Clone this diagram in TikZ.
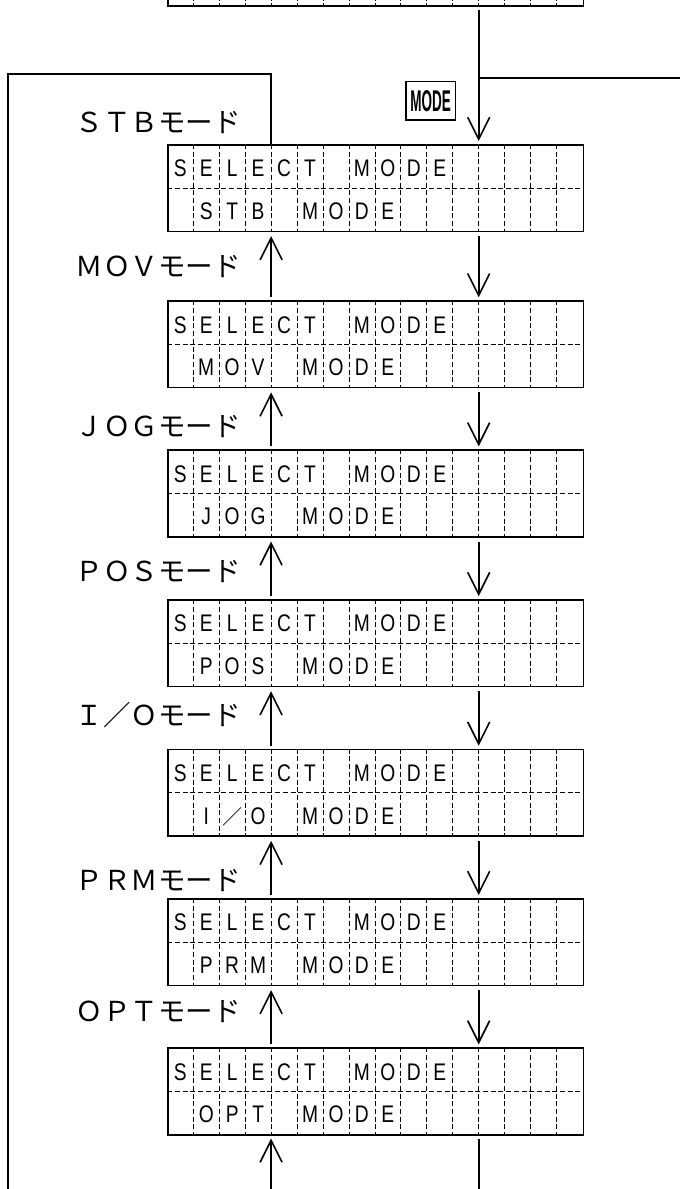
\documentclass[tikz,border=0pt]{standalone}
\usepackage{fontspec}
\newfontfamily\jpfont{Noto Sans CJK JP}
\newfontfamily\lcdfont[FakeStretch=0.8]{Liberation Sans}
\newfontfamily\keyfont[FakeStretch=0.45]{Liberation Sans Bold}
\newcommand\lcdslash{{\jpfont\fontsize{20}{20}\selectfont ／}}
\usetikzlibrary{arrows.meta}

\begin{document}
\begin{tikzpicture}[x=1pt,y=-1pt,
    lcd/.style={draw,line width=1.6pt,minimum width=415.2pt,minimum height=86.5pt,inner sep=0pt,anchor=north west},
    lcdgrid/.style={line width=0.8pt,dash pattern=on 5pt off 2.7pt},
    ch/.style={font=\lcdfont\fontsize{24}{24}\selectfont,anchor=base,inner sep=0pt},
    mlabel/.style={font=\jpfont\fontsize{27.5}{27.5}\selectfont,anchor=base east,inner sep=0pt},
    wire/.style={line width=1.6pt},
    arr/.style={wire,-{Straight Barb[length=22pt,width=22pt]}}]
      \useasboundingbox (0,0) rectangle (680,1189);
      \clip (0,0) rectangle (680,1189);
      % columns of the arrows
      \coordinate (c4) at (271.1,0);
      \coordinate (c12) at (478.7,0);
      % displays
      \node [lcd] (menu) at (167.3,-81.5) {};
      \foreach \n/\t in {stb/144,mov/300.3,jog/449.4,pos/599.1,io/748.7,prm/898,opt/1047.4}
        \node [lcd] (\n) at (167.3,\t) {};
      \foreach \n in {menu,stb,mov,jog,pos,io,prm,opt} {
        \foreach \k in {1,...,15}
          \draw [lcdgrid] ([xshift=\k*25.95pt]\n.north west) -- ([xshift=\k*25.95pt]\n.south west);
        \draw [lcdgrid] (\n.west) -- (\n.east);
      }
      \foreach \n/\p/\q/\r in {stb/S/T/B,mov/M/O/V,jog/J/O/G,pos/P/O/S,io/I/\lcdslash/O,prm/P/R/M,opt/O/P/T} {
        \foreach \c [count=\i from 0] in {S,E,L,E,C,T,,M,O,D,E}
          \node [ch] (\n-a\i) at ([xshift=(\i+0.5)*25.95pt,yshift=-32.7pt]\n.north west) {\c};
        \foreach \c [count=\i from 1] in {\p,\q,\r,,M,O,D,E}
          \node [ch] (\n-b\i) at ([xshift=(\i+0.5)*25.95pt,yshift=-75.3pt]\n.north west) {\c};
      }
      % mode names
      \node [mlabel] (lstb) at (241,132) {ＳＴＢモード};
      \node [mlabel] (lmov) at (241,276.7) {ＭＯＶモード};
      \node [mlabel] (ljog) at (241,436.7) {ＪＯＧモード};
      \node [mlabel] (lpos) at (241,581.7) {ＰＯＳモード};
      \node [mlabel] (lio) at (241,725) {Ｉ／Ｏモード};
      \node [mlabel] (lprm) at (241,890) {ＰＲＭモード};
      \node [mlabel] (lopt) at (241,1021.7) {ＯＰＴモード};
      % key
      \node [draw,line width=1.4pt,minimum width=49.4pt,minimum height=38.3pt,inner sep=0pt,
        font=\keyfont\fontsize{30}{30}\selectfont] (key) at (430.7,100.9) {MODE};
      % connectors
      \coordinate (split) at (478.7,78);
      \coordinate (splitend) at (680,78);
      \coordinate (turn) at (7.8,74);
      \coordinate (loopend) at (7.8,1189);
      \coordinate (upstart) at (271.1,1189);
      \coordinate (downend) at (478.7,1189);
      \draw [arr,shorten <=3pt,shorten >=3pt] (menu.south -| c12) -- (stb.north -| c12);
      \draw [wire] (split) -- (splitend);
      \draw [wire] (stb.north -| c4) |- (turn) -- (loopend);
      \foreach \u/\d in {stb/mov,mov/jog,jog/pos,pos/io,io/prm,prm/opt} {
        \draw [arr,shorten <=4pt,shorten >=3pt] (\u.south -| c12) -- (\d.north -| c12);
        \draw [arr,shorten <=3pt,shorten >=4pt] (\d.north -| c4) -- (\u.south -| c4);
      }
      \draw [arr,shorten >=3pt] (upstart) -- (opt.south -| c4);
      \draw [wire,shorten <=3pt] (opt.south -| c12) -- (downend);
    \end{tikzpicture}
\end{document}
